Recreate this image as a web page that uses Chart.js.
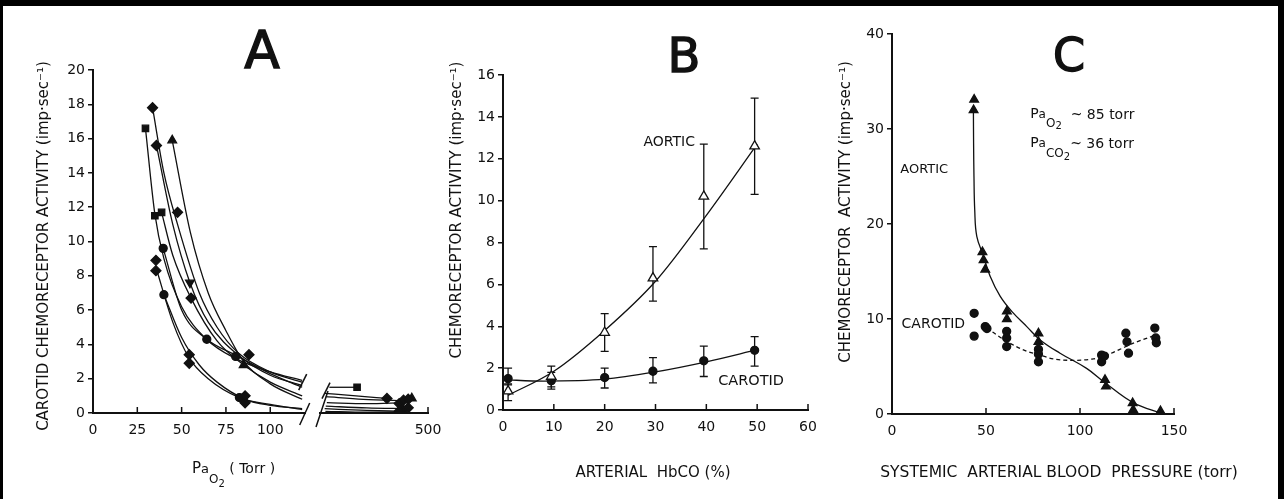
<!DOCTYPE html>
<html>
<head>
<meta charset="utf-8">
<script src="https://cdn.jsdelivr.net/npm/chart.js@4.4.1/dist/chart.umd.min.js"></script>
<style>
  body { margin: 0; background: #fff; }
  #frame { position: absolute; left: 0; top: 0; width: 1284px; height: 499px; box-sizing: border-box;
           border-top: 6px solid #000; border-left: 3px solid #000; border-right: 6px solid #000; }
  canvas { position: absolute; top: 0; }
</style>
</head>
<body>
<div id="frame"></div>
<canvas id="a1" width="312" height="499" style="left:0px"></canvas>
<canvas id="a2" width="150" height="499" style="left:312px"></canvas>
<canvas id="b" width="398" height="499" style="left:442px"></canvas>
<canvas id="c" width="452" height="499" style="left:832px"></canvas>
<script>
var FONT = '"DejaVu Sans", "Liberation Sans", sans-serif';
var INK = '#111';

// ---- panel A : carotid activity vs PaO2 (x axis broken after 120 torr) ----
var aTicksY = [0, 2, 4, 6, 8, 10, 12, 14, 16, 18, 20];
var aTicksX = [0, 25, 50, 75, 100];
var aTicksXFar = [500];
// fitted curves, left part
var aCurves = [
  [[29.6, 16.6], [34.9, 11.6], [40, 9.0], [50, 6.2], [64, 4.3], [80, 3.2], [100, 2.4], [118, 1.9]],
  [[33.6, 17.8], [40, 14.0], [47.7, 11.0], [60, 7.0], [70, 5.0], [82, 3.5], [100, 2.4], [118, 1.8]],
  [[35.8, 15.6], [45, 11.0], [54.7, 7.6], [65, 5.3], [84, 3.2], [100, 2.2], [118, 1.6]],
  [[44.7, 15.9], [55, 10.5], [65, 7.0], [75, 4.8], [85, 3.0], [100, 1.7], [118, 0.8]],
  [[38.7, 11.7], [45, 9.2], [55.3, 6.7], [70, 4.2], [85, 2.8], [100, 1.8], [118, 1.0]],
  [[39.6, 9.6], [50, 6.0], [64.2, 4.3], [80, 3.4], [100, 2.3], [118, 1.5]],
  [[35.5, 8.5], [45, 5.3], [54.3, 3.2], [65, 2.0], [82.6, 0.9], [100, 0.5], [118, 0.2]],
  [[40, 6.9], [50, 4.4], [60, 2.8], [70, 1.8], [85.8, 0.8], [100, 0.45], [118, 0.25]]
];
// fitted curves, right part (200-500 torr)
var aFarCurves = [
  [[226, 1.5], [303, 1.5]],
  [[213, 1.15], [300, 1.0], [386, 0.85]],
  [[216, 0.95], [320, 0.8], [445, 0.7]],
  [[219, 0.6], [330, 0.55], [430, 0.6]],
  [[216, 0.4], [330, 0.3], [440, 0.25]],
  [[213, 0.25], [330, 0.15], [425, 0.1]],
  [[215, 0.1], [330, 0.05], [445, 0.05]]
];
var aDiamonds = [[33.6, 17.8], [35.8, 15.6], [47.7, 11.7], [55.3, 6.7], [88, 3.4], [35.5, 8.3], [35.5, 8.9], [54.3, 2.9], [54.3, 3.4], [85.8, 0.6], [85.8, 1.0]];
var aSquares = [[29.6, 16.6], [34.9, 11.5], [38.7, 11.7]];
var aTriangles = [[44.7, 15.9], [85, 2.8]];
var aTrianglesDown = [[54.7, 7.6]];
var aCircles = [[39.6, 9.6], [40, 6.9], [64.2, 4.3], [80.5, 3.3], [82.6, 0.9]];
var aFarSquares = [[303, 1.5]];
var aFarDiamonds = [[386, 0.85], [420, 0.55], [432, 0.75], [445, 0.8], [430, 0.2], [445, 0.3], [420, 0.1]];
var aFarTriangles = [[455, 0.85]];
var aFarCircles = [[425, 0.05]];

// ---- panel B : activity vs arterial HbCO ----
var bTicksY = [0, 2, 4, 6, 8, 10, 12, 14, 16];
var bTicksX = [0, 10, 20, 30, 40, 50, 60];
var hbco = [1, 9.5, 20, 29.5, 39.5, 49.5];
var aorticB = [0.9, 1.6, 3.7, 6.3, 10.2, 12.6];
var aorticBLo = [0.45, 1.0, 2.8, 5.2, 7.7, 10.3];
var aorticBHi = [1.25, 2.1, 4.6, 7.8, 12.7, 14.9];
var carotidB = [1.5, 1.4, 1.55, 1.85, 2.35, 2.85];
var carotidBLo = [1.2, 1.1, 1.05, 1.3, 1.6, 2.1];
var carotidBHi = [2.0, 1.8, 2.0, 2.5, 3.05, 3.5];
var aorticFitBx = [1, 10, 20, 30, 40, 50];
var aorticFitBy = [0.7, 1.85, 3.8, 6.15, 9.3, 12.7];
var carotidFitBx = [0, 8, 20, 30, 40, 50];
var carotidFitBy = [1.45, 1.38, 1.47, 1.82, 2.3, 2.88];

// ---- panel C : activity vs systemic blood pressure ----
var cTicksY = [0, 10, 20, 30, 40];
var cTicksX = [0, 50, 100, 150];
var pressTri = [43.7, 43.4, 48.1, 48.7, 49.6, 61.1, 61.1, 77.9, 77.9, 113.3, 113.8, 128, 128.3, 142.8];
var aorticC = [33.1, 32.0, 17.05, 16.2, 15.2, 10.8, 10.0, 8.5, 7.6, 3.6, 2.9, 1.16, 0.45, 0.3];
var pressDot = [43.7, 43.7, 49.6, 50.5, 61, 61, 61, 77.9, 77.9, 77.9, 111.5, 111.5, 113, 124.4, 125, 125.8, 139.8, 140.3, 140.6];
var carotidC = [10.6, 8.2, 9.2, 9.0, 8.7, 8.0, 7.1, 6.8, 6.3, 5.5, 6.2, 5.5, 6.1, 8.5, 7.6, 6.4, 9.05, 8.0, 7.5];
var aorticFitCx = [43.3, 43.4, 43.6, 44.0, 45.1, 48.7, 52.2, 57.5, 63.7, 71.7, 78.8, 89.4, 103.5, 113.3, 128.3, 144.2];
var aorticFitCy = [32.0, 28.5, 25.0, 21.5, 18.7, 16.6, 14.5, 12.4, 10.8, 9.2, 7.8, 6.4, 4.8, 3.3, 1.2, 0];
var carotidFitCx = [50.4, 61, 71.7, 77.9, 85.8, 96.5, 107, 112.4, 121.2, 126.5, 140.7];
var carotidFitCy = [9.05, 7.65, 6.6, 6.25, 5.8, 5.65, 5.8, 6.07, 6.8, 7.3, 8.35];

function pairs(list) { return list.map(function (p) { return {x: p[0], y: p[1]}; }); }
function zip(xs, ys) { return xs.map(function (x, i) { return {x: x, y: ys[i]}; }); }

function curve(data, dash, tension) {
  var ds = {data: data, showLine: true, pointRadius: 0, borderColor: INK, borderWidth: 1.3,
            borderDash: dash || [], fill: false};
  if (tension) ds.tension = tension; else ds.cubicInterpolationMode = 'monotone';
  return ds;
}
function marks(data, style, r, fill, rot) {
  return {data: data, showLine: false, pointStyle: style, pointRadius: r, pointBackgroundColor: fill || INK,
          pointBorderColor: INK, pointBorderWidth: 1.3, pointRotation: rot || 0};
}

function tickFont() { return {family: FONT, size: 14}; }

function xScale(min, max, ticks) {
  return {
    type: 'linear', min: min, max: max,
    afterBuildTicks: function (s) { s.ticks = ticks.map(function (v) { return {value: v}; }); },
    afterFit: function (s) { s.height = 30; },
    grid: {display: false, drawTicks: false},
    border: {color: INK, width: 2},
    ticks: {font: tickFont(), color: INK, padding: 9, maxRotation: 0}
  };
}
function yScale(max, ticks, width, show) {
  return {
    type: 'linear', min: 0, max: max, display: show !== false,
    afterBuildTicks: function (s) { s.ticks = ticks.map(function (v) { return {value: v}; }); },
    afterFit: function (s) { s.width = width; },
    grid: {drawOnChartArea: false, tickLength: 5, color: INK, lineWidth: 1.5},
    border: {color: INK, width: 2},
    ticks: {font: tickFont(), color: INK, padding: 3}
  };
}

// ticks in the original point up into the plot
var innerTicks = {
  id: 'innerTicks',
  afterDraw: function (chart) {
    var sx = chart.scales.x, ctx = chart.ctx, bottom = chart.chartArea.bottom;
    ctx.save();
    ctx.strokeStyle = INK; ctx.lineWidth = 1.5;
    sx.ticks.forEach(function (t) {
      if (t.value <= sx.min) return;
      var px = sx.getPixelForValue(t.value);
      ctx.beginPath(); ctx.moveTo(px, bottom); ctx.lineTo(px, bottom - 6); ctx.stroke();
    });
    ctx.restore();
  }
};

function runs(ctx, x, y, parts) {
  ctx.save();
  ctx.fillStyle = INK; ctx.textBaseline = 'alphabetic'; ctx.textAlign = 'left';
  parts.forEach(function (p) {
    ctx.font = p[1] + 'px ' + FONT;
    ctx.fillText(p[0], x, y + (p[2] || 0));
    x += ctx.measureText(p[0]).width;
  });
  ctx.restore();
}
function text(ctx, s, x, y, size, rot) {
  ctx.save();
  ctx.fillStyle = INK; ctx.font = size + 'px ' + FONT;
  ctx.textAlign = 'center'; ctx.textBaseline = 'middle';
  ctx.translate(x, y);
  if (rot) ctx.rotate(rot);
  ctx.fillText(s, 0, 0);
  ctx.restore();
}
function letter(ctx, s, x, y, size) {
  ctx.save();
  ctx.fillStyle = INK; ctx.strokeStyle = INK; ctx.lineWidth = 1.4;
  ctx.font = size + 'px ' + FONT; ctx.textAlign = 'center'; ctx.textBaseline = 'middle';
  ctx.fillText(s, x, y); ctx.strokeText(s, x, y);
  ctx.restore();
}
function slash(ctx, x, y, dx, dy) {
  ctx.save();
  ctx.strokeStyle = INK; ctx.lineWidth = 1.5;
  ctx.beginPath(); ctx.moveTo(x - dx, y + dy); ctx.lineTo(x + dx, y - dy); ctx.stroke();
  ctx.restore();
}

function baseOptions(pad, scales) {
  return {
    animation: false, responsive: false,
    layout: {padding: pad},
    plugins: {legend: {display: false}, tooltip: {enabled: false}},
    scales: scales
  };
}

var UP = -Math.PI / 2;
var ACT = 'CHEMORECEPTOR  ACTIVITY (imp\u00B7sec\u207B\u00B9)';

// ---- chart A, left of the break ----
var aSets = [
  marks(pairs(aDiamonds), 'rectRot', 5),
  marks(pairs(aSquares), 'rect', 4.5),
  marks(pairs(aTriangles), 'triangle', 5),
  marks(pairs(aTrianglesDown), 'triangle', 5, INK, 180),
  marks(pairs(aCircles), 'circle', 4)
].concat(aCurves.map(function (c) { return curve(pairs(c)); }));

new Chart(document.getElementById('a1'), {
  type: 'scatter',
  data: {datasets: aSets},
  options: baseOptions({left: 34, right: 6, top: 70, bottom: 56}, {
    x: xScale(0, 120, aTicksX),
    y: yScale(20, aTicksY, 59)
  }),
  plugins: [innerTicks, {
    id: 'decorA',
    afterDraw: function (chart) {
      var ctx = chart.ctx, a = chart.chartArea, sy = chart.scales.y;
      letter(ctx, 'A', 262, 54, 52);
      text(ctx, 'CAROTID CHEMORECEPTOR ACTIVITY (imp\u00B7sec\u207B\u00B9)', 44, 246, 15, UP);
      runs(ctx, 192, 473, [['P', 15], ['a', 13], ['O', 12, 10], ['2', 10, 14], [' ( Torr )', 14]]);
      slash(ctx, a.right - 1, a.bottom + 1, 5, 11);
      slash(ctx, a.right - 3, sy.getPixelForValue(1.8), 4, 8);
    }
  }]
});

// ---- chart A, right of the break ----
var aFarSets = [
  marks(pairs(aFarSquares), 'rect', 4.5),
  marks(pairs(aFarDiamonds), 'rectRot', 5),
  marks(pairs(aFarTriangles), 'triangle', 5),
  marks(pairs(aFarCircles), 'circle', 4)
].concat(aFarCurves.map(function (c) { return curve(pairs(c)); }));

new Chart(document.getElementById('a2'), {
  type: 'scatter',
  data: {datasets: aFarSets},
  options: baseOptions({left: 8, right: 34, top: 70, bottom: 56}, {
    x: xScale(200, 500, aTicksXFar),
    y: yScale(20, aTicksY, 0, false)
  }),
  plugins: [innerTicks, {
    id: 'decorA2',
    afterDraw: function (chart) {
      var ctx = chart.ctx, a = chart.chartArea, sy = chart.scales.y;
      slash(ctx, a.left + 2, a.bottom - 4, 6, 18);
      slash(ctx, a.left + 6, sy.getPixelForValue(1.3), 4, 8);
    }
  }]
});

// ---- chart B ----
var errorBars = {
  id: 'errorBars',
  beforeDatasetsDraw: function (chart) {
    var ctx = chart.ctx, sx = chart.scales.x, sy = chart.scales.y;
    ctx.save();
    ctx.strokeStyle = INK; ctx.lineWidth = 1.3;
    [[aorticBLo, aorticBHi], [carotidBLo, carotidBHi]].forEach(function (pair) {
      hbco.forEach(function (h, i) {
        var px = sx.getPixelForValue(h), lo = sy.getPixelForValue(pair[0][i]), hi = sy.getPixelForValue(pair[1][i]);
        ctx.beginPath();
        ctx.moveTo(px, lo); ctx.lineTo(px, hi);
        ctx.moveTo(px - 4, lo); ctx.lineTo(px + 4, lo);
        ctx.moveTo(px - 4, hi); ctx.lineTo(px + 4, hi);
        ctx.stroke();
      });
    });
    ctx.restore();
  }
};

new Chart(document.getElementById('b'), {
  type: 'scatter',
  data: {datasets: [
    marks(zip(hbco, aorticB), 'triangle', 5.5, '#fff'),
    marks(zip(hbco, carotidB), 'circle', 4),
    curve(zip(aorticFitBx, aorticFitBy)),
    curve(zip(carotidFitBx, carotidFitBy))
  ]},
  options: baseOptions({left: 5, right: 32, top: 75, bottom: 59}, {
    x: xScale(0, 60, bTicksX),
    y: yScale(16, bTicksY, 56)
  }),
  plugins: [innerTicks, errorBars, {
    id: 'decorB',
    afterDraw: function (chart) {
      var ctx = chart.ctx, sx = chart.scales.x, sy = chart.scales.y;
      letter(ctx, 'B', 242, 60, 48);
      text(ctx, ACT.replace('  ', ' '), 15.5, 210, 15, UP);
      text(ctx, 'AORTIC', sx.getPixelForValue(32.7), sy.getPixelForValue(12.8), 14);
      text(ctx, 'CAROTID', sx.getPixelForValue(48.8), sy.getPixelForValue(1.39), 14.5);
      text(ctx, 'ARTERIAL  HbCO (%)', 211, 473, 15);
    }
  }]
});

// ---- chart C ----
new Chart(document.getElementById('c'), {
  type: 'scatter',
  data: {datasets: [
    marks(zip(pressTri, aorticC), 'triangle', 5),
    marks(zip(pressDot, carotidC), 'circle', 4),
    curve(zip(aorticFitCx, aorticFitCy), null, 0.4),
    curve(zip(carotidFitCx, carotidFitCy), [4, 3])
  ]},
  options: baseOptions({left: 4, right: 110, top: 34, bottom: 55}, {
    x: xScale(0, 150, cTicksX),
    y: yScale(40, cTicksY, 56)
  }),
  plugins: [innerTicks, {
    id: 'decorC',
    afterDraw: function (chart) {
      var ctx = chart.ctx, sx = chart.scales.x, sy = chart.scales.y;
      letter(ctx, 'C', 237, 59, 46);
      text(ctx, ACT, 14, 212, 15, UP);
      text(ctx, 'AORTIC', sx.getPixelForValue(17.1), sy.getPixelForValue(25.7), 13);
      text(ctx, 'CAROTID', sx.getPixelForValue(22.0), sy.getPixelForValue(9.4), 14);
      var x0 = sx.getPixelForValue(73.5);
      runs(ctx, x0, sy.getPixelForValue(31.2), [['P', 14], ['a', 12], ['O', 12, 9], ['2', 10, 11], ['  ~ 85 torr', 14, 1]]);
      runs(ctx, x0, sy.getPixelForValue(28.1), [['P', 14], ['a', 12], ['CO', 12, 10], ['2', 10, 13], ['~ 36 torr', 14, 1]]);
      text(ctx, 'SYSTEMIC  ARTERIAL BLOOD  PRESSURE (torr)', 227, 473, 15.5);
    }
  }]
});
</script>
</body>
</html>
